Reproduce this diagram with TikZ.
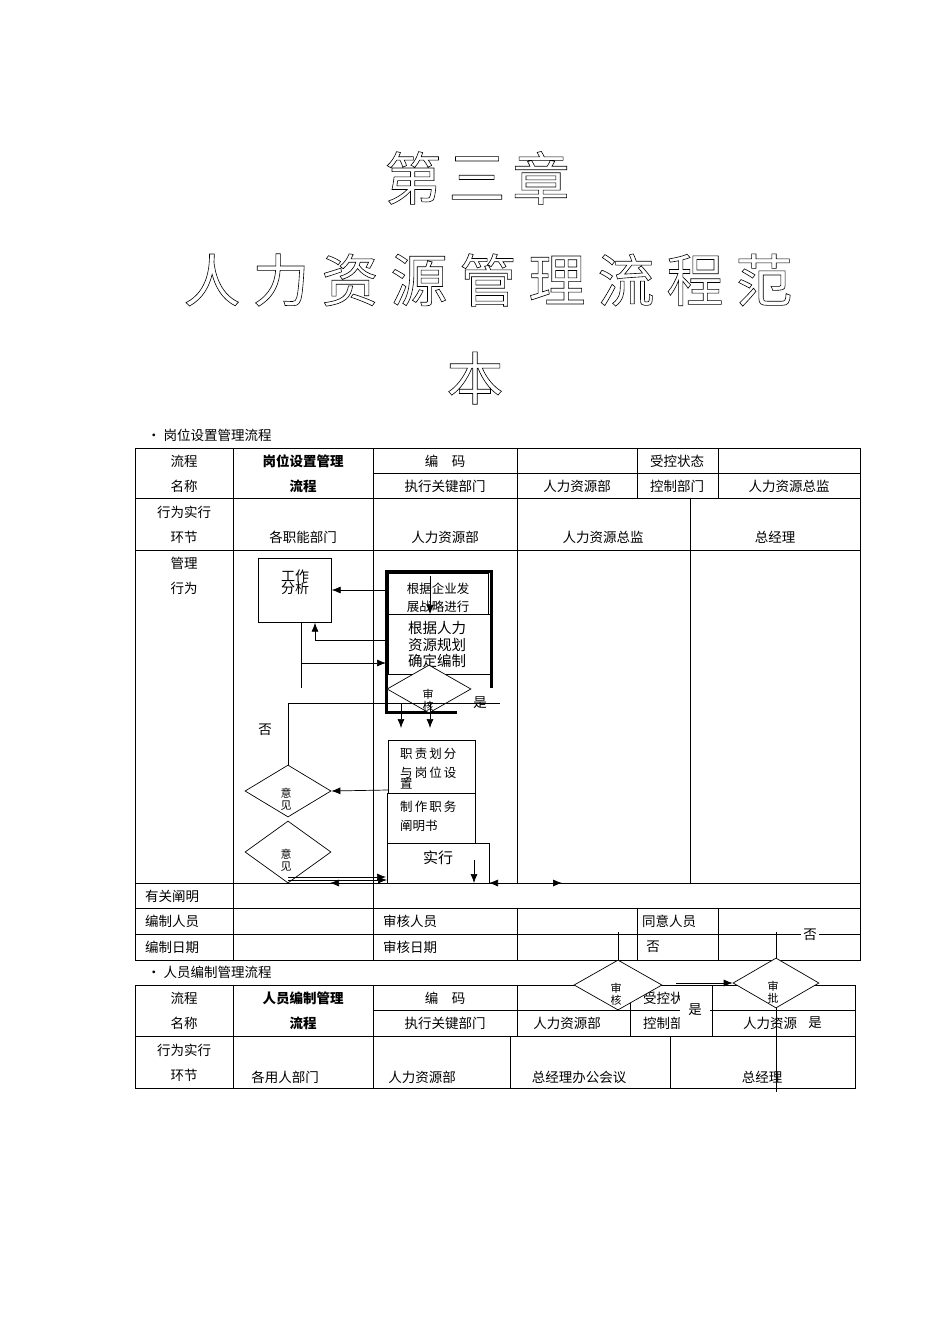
\documentclass[tikz,border=0pt]{standalone}
\usepackage{fontspec}
\setmainfont{Liberation Serif}
\newfontfamily\cjk{Noto Sans CJK SC}
\usetikzlibrary{shapes.geometric,arrows.meta}
\newcommand{\outl}[1]{\special{pdf:literal direct 1 Tr 0.6 w}#1\special{pdf:literal direct 0 Tr}}
\begin{document}
\begin{tikzpicture}[x=1pt,y=-1pt,
 t/.style={font=\cjk\fontsize{13.5}{15}\selectfont,inner sep=0pt},
 tb/.style={font=\cjk\bfseries\fontsize{13.5}{15}\selectfont,inner sep=0pt},
 big/.style={font=\cjk\fontsize{57}{57}\selectfont,inner sep=0pt,text=black},
 ln/.style={line width=0.7pt},
 ar/.style={line width=0.7pt,-{Latex[length=9pt,width=7pt]}},
 bx/.style={draw,line width=0.7pt,fill=white},
 dm/.style={draw,diamond,aspect=1.7,line width=0.7pt,inner sep=0pt,fill=white},
 wp/.style={fill=white,inner sep=2pt,font=\cjk\fontsize{13.5}{15}\selectfont}]
\useasboundingbox (0,0) rectangle (950,1344);
% titles
\foreach \c [count=\i] in {第,三,章} \node[big] (ta\i) at ({477+(\i-2)*64},178) {\outl{\c}};
\foreach \c [count=\i] in {人,力,资,源,管,理,流,程,范} \node[big] (tb\i) at ({212+(\i-1)*69},280) {\outl{\c}};
\node[big] (tc) at (475,378) {\outl{本}};
\node[t,anchor=west] (h1) at (147,435) {• 岗位设置管理流程};
% table 1
\draw[ln] (135,448) rectangle (860,960);
\foreach \y in {498,550,883,908,934} \draw[ln] (135,\y) -- (860,\y);
\draw[ln] (373,473) -- (860,473);
\foreach \x in {233,373} \draw[ln] (\x,448) -- (\x,960);
\foreach \x in {517,637,718} {\draw[ln] (\x,448) -- (\x,498); \draw[ln] (\x,908) -- (\x,960);}
\foreach \x in {517,690} \draw[ln] (\x,498) -- (\x,883);
\node[t] (a1) at (184,461) {流程}; \node[t] (a2) at (184,486) {名称};
\node[tb] (a3) at (303,461) {岗位设置管理}; \node[tb] (a4) at (303,486) {流程};
\node[t] (a5) at (445,461) {编\quad 码}; \node[t] (a6) at (677,461) {受控状态};
\node[t] (a7) at (445,486) {执行关键部门}; \node[t] (a8) at (577,486) {人力资源部};
\node[t] (a9) at (677,486) {控制部门}; \node[t] (a10) at (789,486) {人力资源总监};
\node[t] (b1) at (184,512) {行为实行}; \node[t] (b2) at (184,537) {环节};
\node[t] (b3) at (303,537) {各职能部门}; \node[t] (b4) at (445,537) {人力资源部};
\node[t] (b5) at (603,537) {人力资源总监}; \node[t] (b6) at (775,537) {总经理};
\node[t] (c1) at (184,563) {管理}; \node[t] (c2) at (184,588) {行为};
\node[t,anchor=west] (d1) at (145,896) {有关阐明};
\node[t,anchor=west] (d2) at (145,921) {编制人员}; \node[t,anchor=west] (d3) at (383,921) {审核人员};
\node[t,anchor=west] (d4) at (642,921) {同意人员};
\node[t,anchor=west] (d5) at (145,947) {编制日期}; \node[t,anchor=west] (d6) at (383,947) {审核日期};
% flow
\node[bx,minimum width=73,minimum height=64,anchor=north west] (wa) at (258,558) {};
\node[t,align=center,font=\cjk\fontsize{14}{15}\selectfont] (wat) at (295,582) {工作\\[-3pt]分析};
\draw[line width=3pt] (491,688) -- (491,571) -- (386,571) -- (386,712) -- (457,712);
\node[bx,minimum width=100,minimum height=42,anchor=north west] (g1) at (388,573) {};
\node[t,align=center,font=\cjk\fontsize{12.5}{18}\selectfont] (g1t) at (438,598) {根据企业发\\展战略进行};
\node[bx,minimum width=102,minimum height=60,anchor=north west] (g2) at (388,614) {};
\node[t,align=center,font=\cjk\fontsize{14.5}{16.5}\selectfont] (g2t) at (437,645) {根据人力\\资源规划\\确定编制};
\draw[ar] (430,576) -- (430,614);
\node[dm,minimum width=84,minimum height=48] (sh) at (429,689) {};
\node[t,align=center,font=\cjk\fontsize{11}{12}\selectfont] (sht) at (428,700) {审\\核};
\node[wp] (shy) at (480,703) {是};
\draw[ar] (401,703) -- (401,728); \draw[ar] (430,703) -- (430,728);
\node[bx,minimum width=87,minimum height=53,anchor=north west] (z1) at (388,740) {};
\node[t,align=left,font=\cjk\fontsize{12.5}{19}\selectfont,anchor=north west] (z1t) at (400,748) {职\,责\,划\,分\\与\,岗\,位\,设\\[-8pt]置};
\node[bx,minimum width=88,minimum height=50,anchor=north west] (z2) at (387,793) {};
\node[t,align=left,font=\cjk\fontsize{12.5}{19}\selectfont,anchor=north west] (z2t) at (400,801) {制\,作\,职\,务\\阐明书};
\node[bx,minimum width=102,minimum height=40,anchor=north west] (sx) at (387,843) {};
\node[t,font=\cjk\fontsize{15}{16}\selectfont] (sxt) at (438,858) {实行};
\draw[ar] (474,860) -- (474,883);
\node[dm,minimum width=86,minimum height=52] (y1) at (288,791) {};
\node[t,align=center,font=\cjk\fontsize{11}{12}\selectfont] (y1t) at (286,799) {意\\见};
\node[dm,minimum width=86,minimum height=62] (y2) at (288,852) {};
\node[t,align=center,font=\cjk\fontsize{11}{12}\selectfont] (y2t) at (286,860) {意\\见};
\draw[ar] (386,590) -- (wa.east|-0,590);
\draw[ar] (386,640) -- (315,640) -- (wa.south-|315,0);
\draw[ln] (301,622) -- (301,688);
\draw[ar] (301,663) -- (386,663);
\draw[ln] (y1.north) -- (288,703) -- (500,703);
\node[t] (no1) at (265,730) {否};
\draw[ar] (388,790) -- (y1.east);
\draw[ar] (288,880) -- (387,880);
\draw[ar] (288,877) -- (386,877);
\draw[ar] (360,883) -- (330,883);
\draw[ln] (233,883) -- (775,883);
\draw[ar] (775,883) -- (489,883);
\draw[ar] (540,883) -- (562,883);
% lower right
\draw[ln] (618,932) -- (618,960); \draw[ln] (776,932) -- (776,1092);
\draw[ln] (640,934) -- (840,934);
\node[wp] (no2) at (653,947) {否};
\node[wp] (no3) at (810,935) {否};
% table 2
\node[t,anchor=west] (h2) at (147,972) {• 人员编制管理流程};
\draw[ln] (135,985) rectangle (855,1088);
\draw[ln] (135,1036) -- (855,1036);
\draw[ln] (373,1010) -- (855,1010);
\foreach \x in {233,373} \draw[ln] (\x,985) -- (\x,1088);
\foreach \x in {517,630,712} \draw[ln] (\x,985) -- (\x,1036);
\draw[ln] (510,1036) -- (510,1088); \draw[ln] (670,1036) -- (670,1088);
\node[t] (e1) at (184,998) {流程}; \node[t] (e2) at (184,1023) {名称};
\node[tb] (e3) at (303,998) {人员编制管理}; \node[tb] (e4) at (303,1023) {流程};
\node[t] (e5) at (445,998) {编\quad 码}; \node[t] (e6) at (670,998) {受控状态};
\node[t] (e7) at (445,1023) {执行关键部门}; \node[t] (e8) at (567,1023) {人力资源部};
\node[t] (e9) at (670,1023) {控制部门}; \node[t] (e10) at (770,1023) {人力资源};
\node[t] (f1) at (184,1050) {行为实行}; \node[t] (f2) at (184,1075) {环节};
\node[t] (f3) at (285,1077) {各用人部门}; \node[t] (f4) at (422,1077) {人力资源部};
\node[t] (f5) at (579,1077) {总经理办公会议}; \node[t] (f6) at (762,1077) {总经理};
\node[dm,minimum width=88,minimum height=50] (s2) at (618,985) {};
\node[t,align=center,font=\cjk\fontsize{11}{12}\selectfont] (s2t) at (616,994) {审\\核};
\node[dm,minimum width=86,minimum height=50] (sp) at (776,983) {};
\node[t,align=center,font=\cjk\fontsize{11}{12}\selectfont] (spt) at (773,992) {审\\批};
\draw[ar] (676,983) -- (sp.west);
\node[wp,minimum width=30,minimum height=40] (ye2) at (695,1010) {是};
\node[wp,minimum width=30,minimum height=24] (ye3) at (815,1023) {是};
\end{tikzpicture}
\end{document}
